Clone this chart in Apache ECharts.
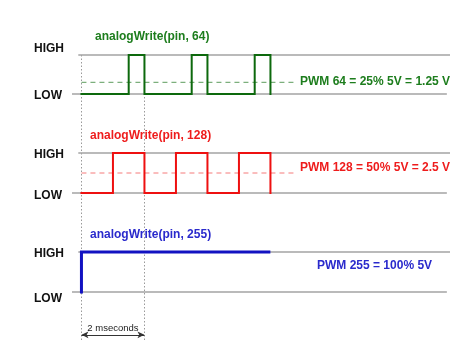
<!DOCTYPE html>
<html>
<head>
<meta charset="utf-8">
<script src="https://cdn.jsdelivr.net/npm/echarts@6/dist/echarts.min.js"></script>
<style>
  html, body { margin: 0; padding: 0; background: #fff; }
  #main { width: 474px; height: 355px; }
</style>
</head>
<body>
<div id="main"></div>
<script>
// time axis in milliseconds, level 0 = LOW, 1 = HIGH
const timeRange = [-0.3, 11.7]
const levelLabels = ['LOW', 'HIGH']

const pwm64Wave = [[0, 0], [1.5, 0], [1.5, 1], [2, 1], [2, 0], [3.5, 0], [3.5, 1], [4, 1], [4, 0], [5.5, 0], [5.5, 1], [6, 1], [6, 0]]
const pwm128Wave = [[0, 0], [1, 0], [1, 1], [2, 1], [2, 0], [3, 0], [3, 1], [4, 1], [4, 0], [5, 0], [5, 1], [6, 1], [6, 0]]
const pwm255Wave = [[0, 0], [0, 1], [5.95, 1]]

// dashed average level (as drawn) and where it stops
const avgLevels = [0.3, 0.5, null]
const avgLineEnd = 6.73

// grey HIGH / LOW guide lines, start and end times
const highGuide = [-0.1, 11.7]
const lowGuide = [-0.3, 11.6]

const periodMarks = [0, 2]
const spanLabel = '2 mseconds'

const titles = ['analogWrite(pin, 64)', 'analogWrite(pin, 128)', 'analogWrite(pin, 255)']
const notes = ['PWM 64 = 25% 5V = 1.25 V', 'PWM 128 = 50% 5V = 2.5 V', 'PWM 255 = 100% 5V']
const waves = [pwm64Wave, pwm128Wave, pwm255Wave]

const FONT = '"Liberation Sans", Arial, sans-serif'

// layout / style per panel
const panels = [
  {top: 55, height: 39, line: '#0d690d', text: '#1d7d1d', dash: '#5c9c5c', width: 2, hiOff: -6, loOff: 2, titleX: 95, titleY: 37, noteX: 300, noteY: 82},
  {top: 153, height: 40, line: '#ee1010', text: '#ee1c1c', dash: '#f57a7a', width: 2, hiOff: 2, loOff: 3, titleX: 90, titleY: 136, noteX: 300, noteY: 168},
  {top: 252, height: 40, line: '#1212c2', text: '#2a2acc', dash: null, width: 3, hiOff: 2, loOff: 7, titleX: 90, titleY: 235, noteX: 317, noteY: 266}
]

function shiftPad (off) {
  return off < 0 ? [0, 0, -2 * off, 0] : [2 * off, 0, 0, 0]
}

const grids = []
const xAxes = []
const yAxes = []
const series = []
const graphics = []

panels.forEach((p, i) => {
  grids.push({left: 72, right: 24, top: p.top, height: p.height})
  xAxes.push({type: 'value', gridIndex: i, min: timeRange[0], max: timeRange[1], show: false})
  yAxes.push({
    type: 'value', gridIndex: i, min: 0, max: 1, interval: 1,
    axisLine: {show: false}, axisTick: {show: false}, splitLine: {show: false},
    axisLabel: {
      align: 'left', margin: 38,
      formatter: v => v === 1 ? '{hi|' + levelLabels[1] + '}' : '{lo|' + levelLabels[0] + '}',
      rich: {
        hi: {fontFamily: FONT, fontWeight: 'bold', fontSize: 12, color: '#111', padding: shiftPad(p.hiOff)},
        lo: {fontFamily: FONT, fontWeight: 'bold', fontSize: 12, color: '#111', padding: shiftPad(p.loOff)}
      }
    }
  })

  // grey HIGH / LOW guides
  series.push({
    type: 'line', xAxisIndex: i, yAxisIndex: i, data: [], z: 2,
    markLine: {
      silent: true, symbol: 'none', animation: false, z: 2,
      label: {show: false},
      lineStyle: {color: '#a3a3a3', type: 'solid', width: 1.5},
      data: [
        [{coord: [highGuide[0], 1]}, {coord: [highGuide[1], 1]}],
        [{coord: [lowGuide[0], 0]}, {coord: [lowGuide[1], 0]}]
      ]
    }
  })
  // dashed average level
  if (avgLevels[i] != null) {
    series.push({
      type: 'line', xAxisIndex: i, yAxisIndex: i, z: 5,
      data: [[0, avgLevels[i]], [avgLineEnd, avgLevels[i]]],
      symbol: 'none', silent: true,
      lineStyle: {color: p.dash, type: [5, 4], width: 1}
    })
  }
  series.push({
    type: 'line', xAxisIndex: i, yAxisIndex: i, data: waves[i], z: 10,
    symbol: 'none', clip: false,
    lineStyle: {color: p.line, width: p.width, join: 'miter', cap: 'square'}
  })

  graphics.push({
    type: 'text', x: p.titleX, y: p.titleY,
    style: {text: titles[i], font: 'bold 12px ' + FONT, fill: p.text, verticalAlign: 'middle', textVerticalAlign: 'middle'}
  })
  graphics.push({
    type: 'text', x: p.noteX, y: p.noteY,
    style: {text: notes[i], font: 'bold 12px ' + FONT, fill: p.text, verticalAlign: 'middle', textVerticalAlign: 'middle'}
  })
})

// overlay grid for the dotted period markers and the span arrow
grids.push({left: 72, right: 24, top: 55, bottom: 15})
xAxes.push({type: 'value', gridIndex: 3, min: timeRange[0], max: timeRange[1], show: false})
yAxes.push({type: 'value', gridIndex: 3, min: 0, max: 1, show: false})
series.push({
  type: 'line', xAxisIndex: 3, yAxisIndex: 3, data: [], z: 1,
  markLine: {
    silent: true, symbol: 'none', animation: false, label: {show: false}, z: 1,
    lineStyle: {color: '#9a9a9a', type: [1.5, 2], width: 1},
    data: periodMarks.map(t => ({xAxis: t}))
  }
})
series.push({
  type: 'line', xAxisIndex: 3, yAxisIndex: 3, data: [], z: 2,
  markLine: {
    silent: true, animation: false, z: 2,
    symbol: ['arrow', 'arrow'], symbolSize: [5, 7],
    lineStyle: {color: '#333', type: 'solid', width: 1},
    label: {show: true, position: 'middle', distance: 1, formatter: spanLabel, fontFamily: FONT, fontSize: 9.5, color: '#222'},
    data: [[{coord: [periodMarks[0], 0.018]}, {coord: [periodMarks[1], 0.018]}]]
  }
})

const chart = echarts.init(document.getElementById('main'))
chart.setOption({
  animation: false,
  backgroundColor: '#fff',
  grid: grids,
  xAxis: xAxes,
  yAxis: yAxes,
  series: series,
  graphic: graphics
})
</script>
</body>
</html>
